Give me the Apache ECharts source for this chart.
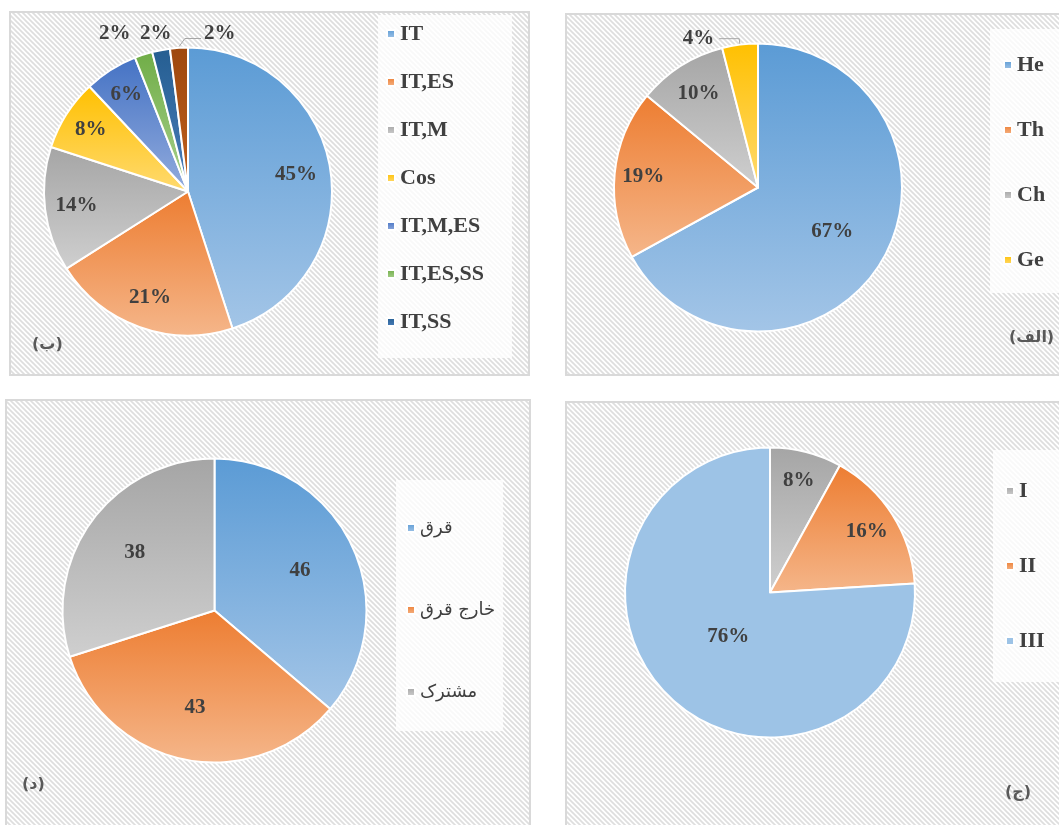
<!DOCTYPE html>
<html>
<head>
<meta charset="utf-8">
<script src="https://cdn.jsdelivr.net/npm/echarts@6/dist/echarts.min.js"></script>
<style>
  html, body { margin: 0; padding: 0; background: #ffffff; }
  #chart { width: 1059px; height: 825px; }
</style>
</head>
<body>
<div id="chart"></div>
<script>
// ---------- data ----------
// (ب) top-left
const bNames = ['IT', 'IT,ES', 'IT,M', 'Cos', 'IT,M,ES', 'IT,ES,SS', 'IT,SS', 'Other'];
const bValues = [45, 21, 14, 8, 6, 2, 2, 2];
const bLegend = ['IT', 'IT,ES', 'IT,M', 'Cos', 'IT,M,ES', 'IT,ES,SS', 'IT,SS'];
// (الف) top-right
const alefNames = ['He', 'Th', 'Ch', 'Ge'];
const alefValues = [67, 19, 10, 4];
// (د) bottom-left
const dalNames = ['قرق', 'خارج قرق', 'مشترک'];
const dalValues = [46, 43, 38];
// (ج) bottom-right
const jimNames = ['I', 'II', 'III'];
const jimValues = [8, 16, 76];

// ---------- styles ----------
function grad(top, bottom) {
  return { type: 'linear', x: 0, y: 0, x2: 0, y2: 1,
    colorStops: [{ offset: 0, color: top }, { offset: 1, color: bottom }] };
}
const C = {
  blue: grad('#5B9BD5', '#A3C5E7'),
  orange: grad('#ED7D31', '#F5B68A'),
  gray: grad('#A5A5A5', '#CFCFCF'),
  yellow: grad('#FFC000', '#FFDA70'),
  dblue: grad('#4472C4', '#93ACDD'),
  green: grad('#70AD47', '#A9D18E'),
  navy: grad('#255E91', '#4A7EBB'),
  brown: grad('#9E480E', '#C0601E'),
  lightblue: '#9DC3E6'
};
const bColors = [C.blue, C.orange, C.gray, C.yellow, C.dblue, C.green, C.navy, C.brown];
const alefColors = [C.blue, C.orange, C.gray, C.yellow];
const dalColors = [C.blue, C.orange, C.gray];
const jimColors = [C.gray, C.orange, C.lightblue];

// label placement styles: radial fraction of radius for inside labels;
// outside labels ('out') sit on a row above the pie, nudged sideways by labelShift px
const bLabelR = [0.76, 0.78, 0.78, 0.8, 0.8, 'out', 'out', 'out'];
const bLabelShift = [0, 0, 0, 0, 0, -22, -2, 26];
const alefLabelR = [0.6, 0.8, 0.77, null];
const dalLabelR = [0.62, 0.65, 0.65];
const jimLabelR = [0.8, 0.79, 0.42];

// hatch pattern
const tile = document.createElement('canvas');
const S = 5;
tile.width = S; tile.height = S;
(function () {
  const ctx = tile.getContext('2d');
  ctx.fillStyle = '#ffffff';
  ctx.fillRect(0, 0, S, S);
  ctx.strokeStyle = '#dedede';
  ctx.lineWidth = 1.7;
  for (let k = -1; k <= 1; k++) {
    ctx.beginPath();
    ctx.moveTo(-1, -1 + k * S);
    ctx.lineTo(S + 1, S + 1 + k * S);
    ctx.stroke();
  }
})();
const hatch = { image: tile, repeat: 'repeat' };

const labelFont = { fontFamily: 'Liberation Serif', fontWeight: 'bold', fontSize: 21, color: '#404040' };

function makeLayout(center, r, fracs, values, shifts, lineIdx) {
  const total = values.reduce((a, b) => a + b, 0);
  const mids = [];
  let acc = 0;
  values.forEach(v => { mids.push((acc + v / 2) / total * Math.PI * 2); acc += v; });
  return function (params) {
    const i = params.dataIndex;
    const f = fracs[i];
    const a = mids[i];
    if (f == null) return {};
    if (f === 'out') {
      // row just above the pie top, on the slice's mid-angle ray
      const rowY = center[1] - r - 14;
      const rayX = center[0] + Math.tan(a) * (center[1] - rowY);
      const sh = (shifts && shifts[i]) || 0;
      const withLine = lineIdx.indexOf(i) >= 0;
      const res = { x: rayX + sh, y: rowY, align: withLine ? 'left' : 'center', verticalAlign: 'middle' };
      if (withLine) {
        const ex = center[0] + Math.sin(a) * (r + 1), ey = center[1] - Math.cos(a) * (r + 1);
        res.labelLinePoints = [[ex, ey], [ex + 6, rowY + 5], [rayX + sh - 3, rowY + 5]];
      }
      return res;
    }
    return {
      x: center[0] + Math.sin(a) * f * r,
      y: center[1] - Math.cos(a) * f * r,
      align: 'center', verticalAlign: 'middle'
    };
  };
}

function buildData(names, values, colors, outsideIdx, lineIdx) {
  return names.map((n, i) => {
    const item = { name: n, value: values[i], itemStyle: { color: colors[i] } };
    if (outsideIdx.indexOf(i) >= 0) {
      item.label = { position: 'outside' };
      item.labelLine = { show: lineIdx.indexOf(i) >= 0, length: 6, length2: 20,
        lineStyle: { color: '#a6a6a6', width: 1 } };
    }
    return item;
  });
}

function pieSeries(cfg) {
  return {
    type: 'pie',
    center: cfg.center,
    radius: cfg.r,
    startAngle: 90,
    clockwise: true,
    avoidLabelOverlap: false,
    animation: false,
    itemStyle: { borderColor: '#ffffff', borderWidth: 2 },
    label: Object.assign({ show: true, position: 'inside', formatter: cfg.fmt }, labelFont),
    labelLine: { show: false },
    labelLayout: makeLayout(cfg.center, cfg.r, cfg.fracs, cfg.values, cfg.shifts, cfg.lines),
    emphasis: { disabled: true },
    data: buildData(cfg.names, cfg.values, cfg.colors, cfg.outside, cfg.lines)
  };
}

const pctFmt = p => Math.round(p.percent) + '%';
const valFmt = p => String(p.value);

const legendText = { fontFamily: 'Liberation Serif', fontWeight: 'bold', fontSize: 22, color: '#404040' };

const option = {
  backgroundColor: '#ffffff',
  animation: false,
  graphic: [
    { type: 'rect', z: 0, shape: { x: 10, y: 12, width: 519, height: 363 }, style: { fill: hatch, stroke: '#d9d9d9', lineWidth: 2 } },
    { type: 'rect', z: 0, shape: { x: 566, y: 14, width: 500, height: 361 }, style: { fill: hatch, stroke: '#d9d9d9', lineWidth: 2 } },
    { type: 'rect', z: 0, shape: { x: 6, y: 400, width: 524, height: 440 }, style: { fill: hatch, stroke: '#d9d9d9', lineWidth: 2 } },
    { type: 'rect', z: 0, shape: { x: 566, y: 402, width: 500, height: 440 }, style: { fill: hatch, stroke: '#d9d9d9', lineWidth: 2 } },
    { type: 'text', z: 50, left: 32, top: 337, style: { text: '(ب)', font: 'bold 16px "DejaVu Sans"', fill: '#595959' } },
    { type: 'text', z: 50, left: 1009, top: 330, style: { text: '(الف)', font: 'bold 16px "DejaVu Sans"', fill: '#595959' } },
    { type: 'text', z: 50, left: 22, top: 777, style: { text: '(د)', font: 'bold 16px "DejaVu Sans"', fill: '#595959' } },
    { type: 'text', z: 50, left: 1005, top: 785, style: { text: '(ج)', font: 'bold 16px "DejaVu Sans"', fill: '#595959' } }
  ],
  legend: [
    { data: bLegend, orient: 'vertical', left: 378, top: 15, itemGap: 26, itemWidth: 8, itemHeight: 8, icon: 'rect',
      padding: [8, 28, 25, 8], backgroundColor: 'rgba(255,255,255,0.8)', textStyle: legendText, selectedMode: false },
    { data: alefNames, orient: 'vertical', left: 990, top: 29, itemGap: 43, itemWidth: 8, itemHeight: 8, icon: 'rect',
      padding: [25, 30, 22, 13], backgroundColor: 'rgba(255,255,255,0.8)', textStyle: legendText, selectedMode: false },
    { data: dalNames, orient: 'vertical', left: 396, top: 480, itemGap: 64, itemWidth: 8, itemHeight: 8, icon: 'rect',
      padding: [39, 8, 30, 10], backgroundColor: 'rgba(255,255,255,0.8)',
      textStyle: { fontFamily: 'DejaVu Sans', fontSize: 18, color: '#404040' }, selectedMode: false },
    { data: jimNames, orient: 'vertical', left: 993, top: 450, itemGap: 53, itemWidth: 8, itemHeight: 8, icon: 'rect',
      padding: [30, 30, 30, 12], backgroundColor: 'rgba(255,255,255,0.8)', textStyle: legendText, selectedMode: false }
  ],
  series: [
    pieSeries({ center: [188, 191.5], r: 144, fmt: pctFmt, fracs: bLabelR, shifts: bLabelShift,
      names: bNames, values: bValues, colors: bColors, outside: [5, 6, 7], lines: [7] }),
    pieSeries({ center: [758, 187.5], r: 144, fmt: pctFmt, fracs: alefLabelR,
      names: alefNames, values: alefValues, colors: alefColors, outside: [3], lines: [3] }),
    pieSeries({ center: [214.5, 610.5], r: 152, fmt: valFmt, fracs: dalLabelR,
      names: dalNames, values: dalValues, colors: dalColors, outside: [], lines: [] }),
    pieSeries({ center: [770, 592.5], r: 145, fmt: pctFmt, fracs: jimLabelR,
      names: jimNames, values: jimValues, colors: jimColors, outside: [], lines: [] })
  ]
};

const chart = echarts.init(document.getElementById('chart'), null, { renderer: 'canvas' });
chart.setOption(option);
</script>
</body>
</html>
